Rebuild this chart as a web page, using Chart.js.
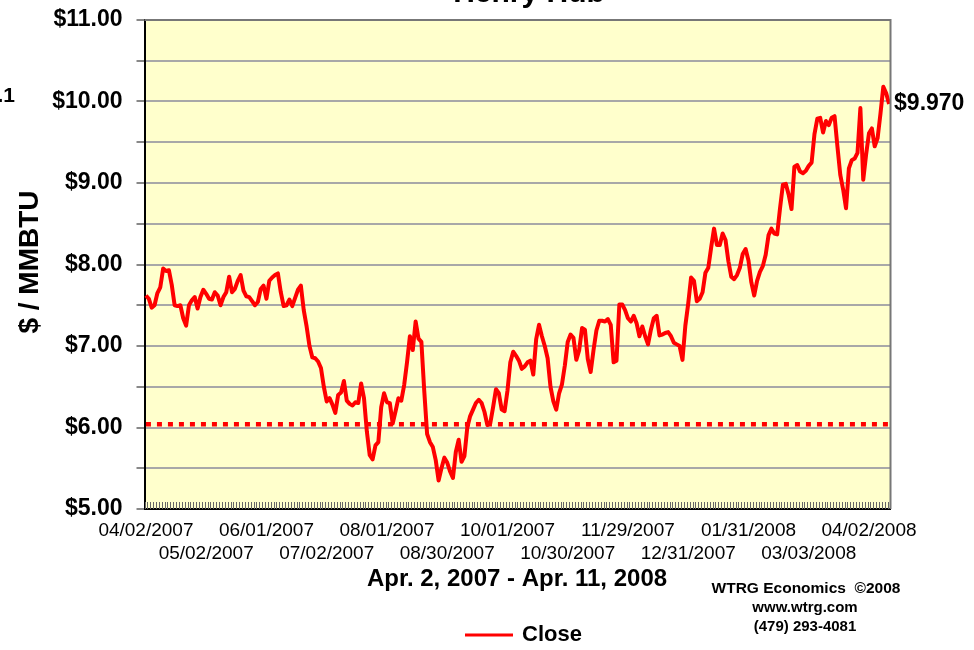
<!DOCTYPE html>
<html><head><meta charset="utf-8">
<script src="https://cdn.jsdelivr.net/npm/chart.js@4.4.0/dist/chart.umd.min.js"></script>
<style>html,body{margin:0;padding:0;background:#fff;} canvas{display:block;}</style>
</head><body>
<canvas id="c" width="974" height="650"></canvas>
<script>
// Henry Hub daily close, $/MMBTU, trading days 04/02/2007 .. 04/11/2008
const closePrices = [
  7.62,7.58,7.47,7.50,7.65,7.72,7.95,7.92,7.93,7.75,
  7.50,7.49,7.50,7.34,7.25,7.50,7.56,7.60,7.46,7.60,
  7.69,7.64,7.58,7.57,7.66,7.62,7.50,7.60,7.66,7.85,
  7.66,7.70,7.80,7.87,7.68,7.61,7.60,7.55,7.50,7.54,
  7.70,7.74,7.58,7.80,7.84,7.87,7.89,7.66,7.49,7.50,
  7.57,7.49,7.59,7.69,7.74,7.44,7.24,7.00,6.86,6.85,
  6.81,6.73,6.50,6.32,6.36,6.28,6.18,6.40,6.43,6.57,
  6.33,6.29,6.27,6.31,6.30,6.54,6.36,5.95,5.66,5.61,
  5.78,5.82,6.25,6.42,6.31,6.30,6.05,6.20,6.36,6.33,
  6.52,6.80,7.12,6.95,7.30,7.09,7.05,6.45,5.92,5.82,
  5.76,5.60,5.35,5.50,5.63,5.57,5.46,5.38,5.70,5.85,
  5.58,5.65,6.00,6.14,6.22,6.30,6.34,6.30,6.19,6.03,
  6.05,6.25,6.47,6.42,6.22,6.20,6.45,6.80,6.93,6.88,
  6.82,6.72,6.75,6.80,6.82,6.65,7.08,7.26,7.12,7.00,
  6.85,6.50,6.32,6.22,6.42,6.53,6.76,7.05,7.14,7.10,
  6.83,6.95,7.22,7.20,6.84,6.68,6.95,7.19,7.31,7.31,
  7.30,7.33,7.26,6.80,6.82,7.51,7.51,7.44,7.34,7.30,
  7.37,7.28,7.12,7.24,7.12,7.02,7.20,7.34,7.37,7.13,
  7.14,7.16,7.17,7.12,7.04,7.02,7.00,6.83,7.25,7.52,
  7.84,7.80,7.55,7.58,7.66,7.90,7.96,8.21,8.44,8.24,
  8.24,8.38,8.30,8.04,7.85,7.82,7.87,7.96,8.13,8.19,
  8.05,7.78,7.62,7.80,7.91,7.98,8.12,8.36,8.44,8.38,
  8.37,8.69,8.98,8.99,8.86,8.68,9.20,9.22,9.14,9.12,
  9.15,9.21,9.25,9.60,9.79,9.80,9.62,9.76,9.71,9.80,
  9.82,9.45,9.10,8.92,8.69,9.18,9.28,9.30,9.37,9.92,
  9.04,9.35,9.61,9.67,9.45,9.55,9.85,10.18,10.10,9.97
];
// date shown every 21st trading day
const tickLabels = ['04/02/2007','05/02/2007','06/01/2007','07/02/2007','08/01/2007','08/30/2007',
  '10/01/2007','10/30/2007','11/29/2007','12/31/2007','01/31/2008','03/03/2008','04/02/2008'];
const labelEvery = 21;
const referenceLevel = 6.04;
const lastValueLabel = '$9.970';
const seriesName = 'Close';
const chartTitle = 'Henry Hub';
const yTitle = '$ / MMBTU';
const xTitle = 'Apr. 2, 2007 - Apr. 11, 2008';
const creditLines = ['WTRG Economics  \u00A92008', 'www.wtrg.com', '(479) 293-4081'];
const yMin = 5, yMax = 11, yStep = 0.5;

const categories = closePrices.map((_, i) => i);
const FONT = "'Liberation Sans', Arial, sans-serif";
Chart.defaults.font.family = FONT;
Chart.defaults.color = '#000';

const decorPlugin = {
  id: 'decor',
  beforeDraw(chart) {
    const {ctx, chartArea: a} = chart;
    ctx.save();
    ctx.fillStyle = '#ffffff';
    ctx.fillRect(0, 0, chart.width, chart.height);
    ctx.fillStyle = '#FFFFCC';
    ctx.fillRect(a.left, a.top, a.right - a.left, a.bottom - a.top);
    ctx.restore();
  },
  beforeDatasetsDraw(chart) {
    const {ctx, chartArea: a, scales: {x, y}} = chart;
    ctx.save();
    // category tick comb along the bottom, inside the plot
    const w = (x.getPixelForValue(1) - x.getPixelForValue(0));
    ctx.strokeStyle = '#666';
    ctx.lineWidth = 1;
    ctx.beginPath();
    for (let i = 0; i <= categories.length; i++) {
      const px = Math.round(x.getPixelForValue(0) - w / 2 + i * w) + 0.5;
      ctx.moveTo(px, a.bottom);
      ctx.lineTo(px, a.bottom - 7);
    }
    ctx.stroke();
    // dotted reference level
    const ry = y.getPixelForValue(referenceLevel);
    ctx.strokeStyle = '#ff0000';
    ctx.lineWidth = 4.5;
    ctx.setLineDash([5, 6]);
    ctx.beginPath();
    ctx.moveTo(x.getPixelForValue(0), ry);
    ctx.lineTo(x.getPixelForValue(categories.length - 1), ry);
    ctx.stroke();
    ctx.restore();
  },
  afterDraw(chart) {
    const {ctx, chartArea: a, scales: {x, y}} = chart;
    ctx.save();
    // plot border top/right
    ctx.strokeStyle = '#777';
    ctx.lineWidth = 2;
    ctx.beginPath();
    ctx.moveTo(a.left, a.top); ctx.lineTo(a.right, a.top); ctx.lineTo(a.right, a.bottom);
    ctx.stroke();
    ctx.fillStyle = '#000';
    // title (cut off at top)
    ctx.font = 'bold 30px ' + FONT;
    ctx.textAlign = 'center';
    ctx.textBaseline = 'alphabetic';
    ctx.fillText(chartTitle, 529, 2);
    // stray label at left
    ctx.font = 'bold 21px ' + FONT;
    ctx.textAlign = 'right';
    ctx.fillText('.1', 15, 102);
    // y title
    ctx.save();
    ctx.translate(30, 262);
    ctx.rotate(-Math.PI / 2);
    ctx.font = 'bold 28px ' + FONT;
    ctx.textAlign = 'center';
    ctx.textBaseline = 'middle';
    ctx.fillText(yTitle, 0, 0);
    ctx.restore();
    // x title
    ctx.font = 'bold 24px ' + FONT;
    ctx.textAlign = 'center';
    ctx.textBaseline = 'middle';
    ctx.fillText(xTitle, 517, 579);
    // last value label
    const li = closePrices.length - 1;
    ctx.font = 'bold 23px ' + FONT;
    ctx.textAlign = 'left';
    ctx.fillText(lastValueLabel, x.getPixelForValue(li) + 5, y.getPixelForValue(closePrices[li]));
    // credits
    ctx.font = 'bold 15.5px ' + FONT;
    ctx.textAlign = 'center';
    ctx.fillText(creditLines[0], 806, 589);
    ctx.font = 'bold 15px ' + FONT;
    ctx.fillText(creditLines[1], 805, 608);
    ctx.fillText(creditLines[2], 805, 627);
    // legend
    ctx.strokeStyle = '#ff0000';
    ctx.lineWidth = 3;
    ctx.beginPath();
    ctx.moveTo(465, 635); ctx.lineTo(513, 635);
    ctx.stroke();
    ctx.font = 'bold 22px ' + FONT;
    ctx.textAlign = 'left';
    ctx.fillText(seriesName, 522, 635);
    ctx.restore();
  }
};

new Chart(document.getElementById('c'), {
  type: 'line',
  data: {
    labels: categories,
    datasets: [{
      label: seriesName,
      data: closePrices,
      borderColor: '#ff0000',
      borderWidth: 4,
      pointRadius: 0,
      tension: 0,
      borderJoinStyle: 'round',
      fill: false
    }]
  },
  options: {
    responsive: false,
    animation: false,
    devicePixelRatio: 1,
    layout: { padding: { top: 20, right: 83.5, bottom: 0, left: 0 } },
    plugins: { legend: { display: false }, title: { display: false }, tooltip: { enabled: false } },
    scales: {
      x: {
        type: 'category',
        offset: true,
        grid: { display: false, drawTicks: false },
        border: { display: true, color: '#000', width: 2 },
        ticks: {
          autoSkip: false, maxRotation: 0, minRotation: 0, padding: 10,
          font: { size: 19, lineHeight: 1.237 },
          color: '#000',
          callback(v, i) {
            if (i % labelEvery !== 0) return '';
            const k = i / labelEvery;
            const t = tickLabels[k];
            if (t === undefined) return '';
            return k % 2 === 0 ? [t, ''] : ['', t];
          }
        },
        afterFit(s) { s.height = 141; s.paddingLeft = 0; s.paddingRight = 0; }
      },
      y: {
        min: yMin, max: yMax,
        grid: {
          color: (c) => (c.tick && c.tick.value === yMax) ? '#777' : '#a8a8a8',
          lineWidth: 2,
          tickLength: 8,
          tickColor: '#888'
        },
        border: { display: true, color: '#000', width: 2 },
        ticks: {
          stepSize: yStep, padding: 14,
          font: { size: 23, weight: 'bold' },
          color: '#000',
          callback(v) { return Number.isInteger(v) ? '$' + v.toFixed(2) : ''; }
        },
        afterFit(s) { s.width = 144.5; s.paddingTop = 0; s.paddingBottom = 0; }
      }
    }
  },
  plugins: [decorPlugin]
});
</script>
</body></html>
